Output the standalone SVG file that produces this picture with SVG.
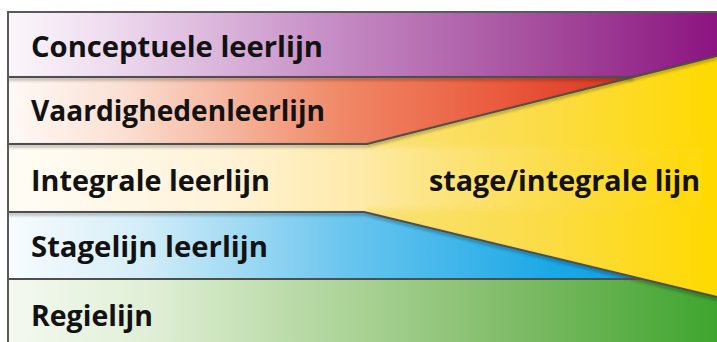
<svg xmlns="http://www.w3.org/2000/svg" width="717" height="342" viewBox="0 0 717 342">
<style>
  .lbl { font-family: "Open Sans", "Liberation Sans", sans-serif; font-weight: bold; font-size: 29px; fill: #121212; }
  .sep { fill: none; stroke: #4e4e4e; stroke-width: 2; stroke-linejoin: round; }
  .shadow { fill: none; stroke: #000; stroke-width: 3; opacity: 0.28; filter: url(#blur); }
  .frame { fill: none; stroke: #5a5a5a; stroke-width: 2; }
</style>
<defs>
  <filter id="blur" x="-5%" y="-50%" width="110%" height="200%"><feGaussianBlur stdDeviation="1.5"/></filter>
  <filter id="soft" x="-5%" y="-20%" width="110%" height="140%"><feGaussianBlur stdDeviation="3"/></filter>
  <linearGradient id="gPurple" gradientUnits="userSpaceOnUse" x1="8" y1="0" x2="717" y2="0">
    <stop offset="0" stop-color="#fbf7fb"/>
    <stop offset="0.15" stop-color="#eedaee"/>
    <stop offset="0.45" stop-color="#c68ec6"/>
    <stop offset="0.75" stop-color="#a54d9c"/>
    <stop offset="1" stop-color="#8b1480"/>
  </linearGradient>
  <linearGradient id="gOrange" gradientUnits="userSpaceOnUse" x1="8" y1="0" x2="640" y2="0">
    <stop offset="0" stop-color="#fffaf7"/>
    <stop offset="0.18" stop-color="#fbe0d3"/>
    <stop offset="0.52" stop-color="#f08a68"/>
    <stop offset="0.8" stop-color="#e9563a"/>
    <stop offset="1" stop-color="#d83220"/>
  </linearGradient>
  <linearGradient id="gBlue" gradientUnits="userSpaceOnUse" x1="8" y1="0" x2="650" y2="0">
    <stop offset="0" stop-color="#f8fcfe"/>
    <stop offset="0.2" stop-color="#d6eef8"/>
    <stop offset="0.52" stop-color="#6cc6ee"/>
    <stop offset="0.85" stop-color="#1aa8e6"/>
    <stop offset="1" stop-color="#129fdc"/>
  </linearGradient>
  <linearGradient id="gGreen" gradientUnits="userSpaceOnUse" x1="8" y1="0" x2="717" y2="0">
    <stop offset="0" stop-color="#f4f9f0"/>
    <stop offset="0.2" stop-color="#e0efd6"/>
    <stop offset="0.47" stop-color="#aed49a"/>
    <stop offset="0.75" stop-color="#78b860"/>
    <stop offset="1" stop-color="#3ea52e"/>
  </linearGradient>
  <linearGradient id="gWedge" gradientUnits="userSpaceOnUse" x1="360" y1="0" x2="717" y2="0">
    <stop offset="0" stop-color="#f9e27a"/>
    <stop offset="0.5" stop-color="#fbdc48"/>
    <stop offset="1" stop-color="#ffd900"/>
  </linearGradient>
  <linearGradient id="gBand" gradientUnits="userSpaceOnUse" x1="8" y1="0" x2="717" y2="0">
    <stop offset="0" stop-color="#fffdf7"/>
    <stop offset="0.3" stop-color="#fff3d8"/>
    <stop offset="0.5" stop-color="#feeaa8"/>
    <stop offset="0.62" stop-color="#fce37a"/>
    <stop offset="0.8" stop-color="#fcdc40"/>
    <stop offset="1" stop-color="#ffd900"/>
  </linearGradient>
</defs>

<rect x="0" y="0" width="717" height="342" fill="#ffffff"/>

<g id="stage-integrale">
  <polygon points="367,144 717,56 717,297 364,212" fill="url(#gWedge)"/>
</g>

<g id="integrale">
  <rect x="8" y="147" width="709" height="62" fill="url(#gBand)" filter="url(#soft)"/>
  <rect x="8" y="144" width="360" height="68" fill="url(#gBand)"/>
  <text class="lbl" x="31" y="191" textLength="239" lengthAdjust="spacingAndGlyphs">Integrale leerlijn</text>
  <text class="lbl" x="429" y="191" textLength="271" lengthAdjust="spacingAndGlyphs">stage/integrale lijn</text>
</g>

<g id="conceptuele">
  <polygon points="8,12 717,12 717,56 633.5,77 8,77" fill="url(#gPurple)"/>
  <text class="lbl" x="31" y="57" textLength="292" lengthAdjust="spacingAndGlyphs">Conceptuele leerlijn</text>
</g>

<g id="vaardigheden">
  <polygon points="8,77 633.5,77 367,144 8,144" fill="url(#gOrange)"/>
  <text class="lbl" x="31" y="121" textLength="294" lengthAdjust="spacingAndGlyphs">Vaardighedenleerlijn</text>
</g>

<g id="stagelijn">
  <polygon points="8,212 364,212 642,279 8,279" fill="url(#gBlue)"/>
  <text class="lbl" x="31" y="257" textLength="237" lengthAdjust="spacingAndGlyphs">Stagelijn leerlijn</text>
</g>

<g id="regielijn">
  <polygon points="8,279 642,279 717,297 717,342 8,342" fill="url(#gGreen)"/>
  <text class="lbl" x="31" y="326" textLength="122" lengthAdjust="spacingAndGlyphs">Regielijn</text>
</g>

<g id="connectors">
  <path class="shadow" d="M8,79 H633.5 L717,58"/>
  <path class="shadow" d="M8,146 H367 L633.5,79"/>
  <path class="shadow" d="M8,214 H364 L642,281 L717,299"/>
  <path class="shadow" d="M8,281 H642"/>
  <path class="sep" d="M8,77 H633.5 L717,56"/>
  <path class="sep" d="M8,144 H367 L633.5,77"/>
  <path class="sep" d="M8,212 H364 L642,279 L717,297"/>
  <path class="sep" d="M8,279 H642"/>
  <path class="frame" d="M8,342 V12 H717"/>
</g>
</svg>
